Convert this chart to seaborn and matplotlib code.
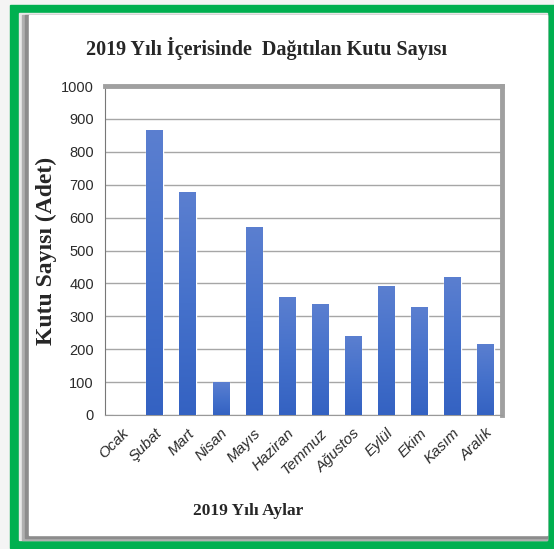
import matplotlib
matplotlib.use("Agg")
import matplotlib.pyplot as plt
import seaborn as sns
import pandas as pd
import numpy as np
from matplotlib.patches import Rectangle
from matplotlib.colors import LinearSegmentedColormap

months = ["Ocak", "Şubat", "Mart", "Nisan", "Mayıs", "Haziran", "Temmuz",
          "Ağustos", "Eylül", "Ekim", "Kasım", "Aralık"]
counts = [0, 865, 678, 100, 570, 360, 336, 240, 392, 328, 420, 217]
yticks = [0, 100, 200, 300, 400, 500, 600, 700, 800, 900, 1000]

df = pd.DataFrame({"ay": months, "kutu": counts})

sns.set_style("white")
serif = ["Liberation Serif", "DejaVu Serif"]
sans = ["Liberation Sans", "DejaVu Sans"]

W, H = 554, 549
fig = plt.figure(figsize=(W / 100, H / 100), dpi=100)
fig.patch.set_facecolor("#f4f4f4")


def px_rect(x0, y0, x1, y1, color, z):
    # rectangle given in pixel coords from top-left
    fig.patches.append(Rectangle((x0 / W, 1 - y1 / H), (x1 - x0) / W, (y1 - y0) / H,
                                 transform=fig.transFigure, color=color, zorder=z))


# green frame + white panel with shadow
px_rect(10, 5, 554, 548, "#00b050", 0)
px_rect(19, 13, 547, 540, "#e8e8e8", 0.4)
px_rect(22, 15, 547, 540, "#b0b0b0", 0.5)
px_rect(25, 15, 547, 538, "#8c8c8c", 0.6)
px_rect(29, 15, 547, 535, "white", 1)

ax = fig.add_axes([105 / W, 1 - 415 / H, 397 / W, 329 / H])
ax.set_zorder(2)
sns.barplot(data=df, x="ay", y="kutu", color="#4169c9", width=0.5,
            saturation=1, ax=ax, zorder=3)

# vertical gradient on bars
cmap = LinearSegmentedColormap.from_list("bar", ["#3462c2", "#4571cb", "#5b7fd0"])
grad = np.linspace(0, 1, 256).reshape(-1, 1)
for p in ax.patches:
    x0, w, h = p.get_x(), p.get_width(), p.get_height()
    if h <= 0:
        continue
    im = ax.imshow(grad, cmap=cmap, origin="lower", aspect="auto",
                   extent=(x0, x0 + w, 0, h), zorder=3.5)
    im.set_clip_path(p)

ax.set_ylim(0, 1000)
ax.set_xlim(-0.5, 11.5)
ax.set_yticks(yticks)
ax.set_yticklabels([str(v) for v in yticks], family=sans, fontsize=10.5, color="#2b2b2b")
ax.set_xticks(range(12))
ax.set_xticklabels(months, rotation=45, ha="right", rotation_mode="anchor",
                   family=sans, fontsize=11, style="italic", color="#2b2b2b")
ax.set_xticks([i - 0.5 for i in range(13)], minor=True)
ax.tick_params(axis="x", which="major", length=0, pad=8)
ax.tick_params(axis="x", which="minor", length=5, color="#999999", width=1)
ax.tick_params(axis="y", length=5, color="#777777", width=1, pad=3)
ax.grid(axis="y", color="#a6a6a6", linewidth=1, zorder=0)
ax.set_axisbelow(True)

for side in ["top", "right"]:
    ax.spines[side].set_color("#a0a0a0")
    ax.spines[side].set_linewidth(3.5)
ax.spines["left"].set_color("#777777")
ax.spines["bottom"].set_color("#999999")

ax.set_xlabel("2019 Yılı Aylar", family=serif, fontsize=12.5, fontweight="bold")
ax.xaxis.set_label_coords((248 - 105) / 397, -(503 - 415) / 329)
ax.set_ylabel("Kutu Sayısı (Adet)", family=serif, fontsize=17, fontweight="bold")
ax.yaxis.set_label_coords(-(105 - 57) / 397, 0.5)
fig.text(266 / W, 1 - 48 / H, "2019 Yılı İçerisinde  Dağıtılan Kutu Sayısı",
         family=serif, fontsize=14.5, fontweight="bold", ha="center", va="center", zorder=3)

fig.savefig("out.png", dpi=100, facecolor=fig.get_facecolor())
